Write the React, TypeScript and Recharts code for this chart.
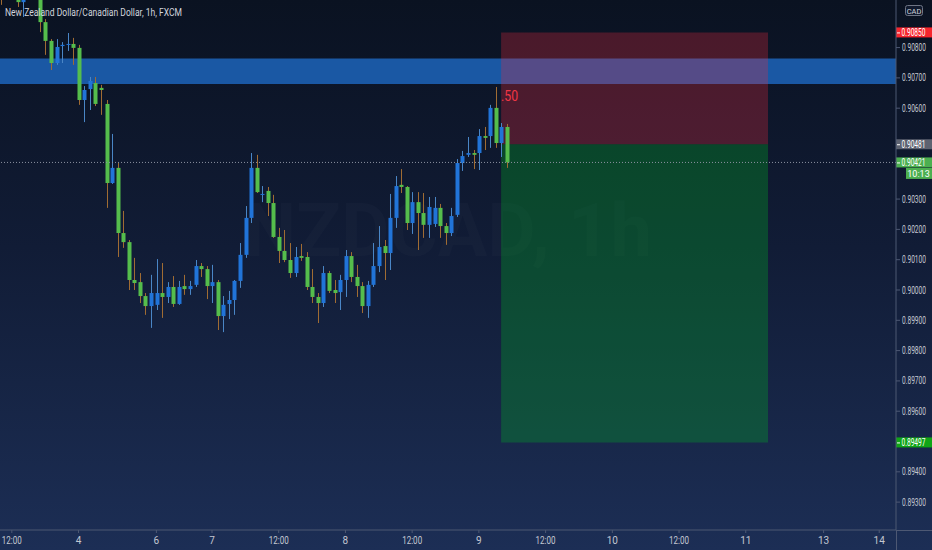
import React from "react";
import {
  Bar, ComposedChart, ReferenceArea, ReferenceDot, ReferenceLine, XAxis, YAxis,
} from "recharts";

// hourly NZD/CAD candles, FXCM (oldest first)
const opens = [
  0.91007, 0.9097, 0.91003, 0.90967, 0.9095, 0.90983, 0.91023, 0.9099, 0.90884, 0.90822,
  0.90749, 0.90805, 0.90809, 0.90812, 0.90799, 0.90627, 0.90663, 0.90683, 0.90667, 0.90614,
  0.90353, 0.90403, 0.90188, 0.90158, 0.90033, 0.90026, 0.8998, 0.89947, 0.89951, 0.8999,
  0.89977, 0.9001, 0.89954, 0.90013, 0.90003, 0.90017, 0.90079, 0.90069, 0.90013, 0.90026,
  0.89914, 0.89954, 0.89967, 0.9003, 0.90116, 0.90238, 0.90403, 0.90314, 0.90327, 0.90287,
  0.90175, 0.90129, 0.90099, 0.90056, 0.90112, 0.90109, 0.9001, 0.89977, 0.89957, 0.90056,
  0.9, 0.89993, 0.90033, 0.90112, 0.90043, 0.90013, 0.89947, 0.90017, 0.90079, 0.90145,
  0.90122, 0.90238, 0.90347, 0.9034, 0.90221, 0.9029, 0.90254, 0.90215, 0.90218, 0.90271,
  0.90211, 0.90188, 0.90248, 0.90419, 0.90446, 0.90452, 0.90452, 0.90508, 0.90508, 0.90601,
  0.90485, 0.90538,
];
const highs = [
  0.91023, 0.91016, 0.9101, 0.90977, 0.90997, 0.9104, 0.91036, 0.91003, 0.90894, 0.90828,
  0.90828, 0.90818, 0.90848, 0.90832, 0.90809, 0.90673, 0.90703, 0.90703, 0.90677, 0.90627,
  0.90515, 0.90419, 0.90261, 0.90165, 0.90106, 0.90056, 0.8999, 0.9005, 0.90102, 0.90089,
  0.90026, 0.90046, 0.9003, 0.9005, 0.9003, 0.90099, 0.90089, 0.90079, 0.90083, 0.90033,
  0.8998, 0.89997, 0.90033, 0.90155, 0.90277, 0.90452, 0.90446, 0.90343, 0.9034, 0.90314,
  0.90205, 0.90198, 0.90155, 0.90142, 0.90152, 0.90125, 0.90069, 0.8999, 0.90079, 0.90063,
  0.90033, 0.9005, 0.90132, 0.90125, 0.90083, 0.90026, 0.9003, 0.90155, 0.90211, 0.90165,
  0.90317, 0.90376, 0.90399, 0.90343, 0.90323, 0.90323, 0.9032, 0.90307, 0.90307, 0.90284,
  0.90221, 0.90271, 0.90432, 0.90459, 0.90505, 0.90462, 0.90531, 0.90538, 0.90611, 0.9067,
  0.90551, 0.90548,
];
const lows = [
  0.90941, 0.90964, 0.9096, 0.90934, 0.90901, 0.90967, 0.9097, 0.90851, 0.90776, 0.90726,
  0.90743, 0.90749, 0.90789, 0.90743, 0.90611, 0.90554, 0.90594, 0.90607, 0.90578, 0.90271,
  0.9035, 0.90109, 0.90139, 0.9, 0.9, 0.89957, 0.89918, 0.89875, 0.89934, 0.89908,
  0.89957, 0.89944, 0.89951, 0.89984, 0.89984, 0.9001, 0.90043, 0.8997, 0.89957, 0.89868,
  0.89861, 0.89904, 0.89918, 0.90007, 0.90106, 0.90221, 0.9032, 0.9029, 0.90244, 0.90172,
  0.90089, 0.90092, 0.9004, 0.90043, 0.90096, 0.9, 0.89957, 0.89891, 0.89944, 0.8999,
  0.89957, 0.89934, 0.89977, 0.90026, 0.89977, 0.89924, 0.89908, 0.9001, 0.90059, 0.90033,
  0.90066, 0.90205, 0.9032, 0.90198, 0.90185, 0.90132, 0.90172, 0.90172, 0.90208, 0.90172,
  0.90149, 0.90178, 0.90241, 0.90393, 0.90439, 0.90399, 0.90396, 0.90462, 0.90469, 0.90469,
  0.90439, 0.90403,
];
const closes = [
  0.90964, 0.91003, 0.90967, 0.9095, 0.90983, 0.91023, 0.9099, 0.90884, 0.90822, 0.90749,
  0.90802, 0.90809, 0.90812, 0.90799, 0.90627, 0.9066, 0.9069, 0.90614, 0.9066, 0.90353,
  0.90403, 0.90188, 0.90158, 0.90033, 0.90023, 0.8998, 0.89947, 0.8999, 0.8999, 0.89977,
  0.9001, 0.89954, 0.9001, 0.90003, 0.90013, 0.90079, 0.90069, 0.90013, 0.90026, 0.89914,
  0.89951, 0.89967, 0.9003, 0.90116, 0.90238, 0.90403, 0.90323, 0.90317, 0.90287, 0.90175,
  0.90129, 0.90099, 0.90056, 0.90109, 0.90106, 0.9001, 0.89977, 0.89957, 0.90056, 0.89997,
  0.8999, 0.90033, 0.90112, 0.90043, 0.90013, 0.89947, 0.90017, 0.90079, 0.90142, 0.90122,
  0.90238, 0.90343, 0.9034, 0.90221, 0.9029, 0.90254, 0.90215, 0.90274, 0.90271, 0.90211,
  0.90188, 0.90244, 0.90419, 0.90442, 0.90452, 0.90446, 0.90508, 0.90502, 0.90601, 0.90485,
  0.90538, 0.90421,
];

// time axis: bar slot of each label
const dayTickSlots = [2, 14, 28, 38, 50, 62, 74, 86, 98, 110, 122, 134, 148, 158];
const dayTickLabels = ["12:00", "4", "6", "7", "12:00", "8", "12:00", "9", "12:00", "10", "12:00", "11", "13", "14"];
// grid prices left visible next to the price tags
const priceTicks = [
  0.893, 0.894, 0.896, 0.897, 0.898, 0.899, 0.9, 0.901,
  0.902, 0.903, 0.906, 0.907, 0.908,
];

const zoneLow = 0.9068;
const zoneHigh = 0.90764;
const stopPrice = 0.9085;
const entryPrice = 0.90481;
const targetPrice = 0.89497;
const lastPrice = 0.90421;
const positionFrom = 90;
const positionTo = 138;
const ratioPrice = 0.90637;
const ratioText = ".50";

const candles = opens.map((open, i) => ({
  slot: i,
  open,
  close: closes[i],
  high: highs[i],
  low: lows[i],
  range: [lows[i], highs[i]],
}));

const W = 932;
const H = 550;
const axisColor = "#4d5873";
const textColor = "#c3c7d1";

function Candle(props: any) {
  const { x, y, width, height, payload } = props;
  if (x == null || y == null) return null;
  const top = Math.min(y, y + height);
  const bottom = Math.max(y, y + height);
  const { open, close, high, low } = payload;
  const toY = (p: number) => top + ((high - p) / (high - low)) * (bottom - top);
  const up = close >= open;
  const cx = Math.round(x + width / 2) + 0.5;
  const bTop = toY(Math.max(open, close));
  const bBot = toY(Math.min(open, close));
  return (
    <g>
      <line x1={cx} x2={cx} y1={top} y2={bottom} stroke={up ? "#4a86c6" : "#a06c33"} strokeWidth={1} />
      <rect
        x={cx - 2}
        y={bTop}
        width={4}
        height={Math.max(1, bBot - bTop)}
        fill={up ? "#2174d8" : "#55bd4c"}
      />
    </g>
  );
}

function PriceTick(props: any) {
  const { x, y, payload } = props;
  return (
    <text x={x} y={y} dy={3.5} fill={textColor} fontSize={10} textLength={24} lengthAdjust="spacingAndGlyphs">
      {payload.value.toFixed(5)}
    </text>
  );
}

function TimeTick(props: any) {
  const { x, y, payload } = props;
  const label = dayTickLabels[dayTickSlots.indexOf(payload.value)] ?? "";
  return (
    <text
      x={x}
      y={y}
      dy={9}
      textAnchor="middle"
      fill={textColor}
      fontSize={10}
      {...(label.length > 2 ? { textLength: 20, lengthAdjust: "spacingAndGlyphs" } : {})}
    >
      {label}
    </text>
  );
}

const priceTag = (text: string, fill: string, countdown?: string) => (props: any) => {
  const vb = props.viewBox;
  if (!vb) return null;
  const x = vb.x + vb.width;
  const y = vb.y;
  return (
    <g>
      <rect x={x} y={y - 5} width={W - x} height={10} fill={fill} />
      <line x1={x + 1} x2={x + 4} y1={y + 0.5} y2={y + 0.5} stroke="#ffffff" />
      <text x={x + 5.5} y={y} dy={3.5} fill="#ffffff" fontSize={10} textLength={24} lengthAdjust="spacingAndGlyphs">
        {text}
      </text>
      {countdown && (
        <g>
          <rect x={x + 10} y={y + 5.5} width={W - x - 10} height={11} fill={fill} />
          <text x={x + 22.5} y={y + 11} dy={3.2} textAnchor="middle" fill="#ffffff" fontSize={9}>
            {countdown}
          </text>
        </g>
      )}
    </g>
  );
};

const ratioLabel = (props: any) => {
  const vb = props.viewBox;
  if (!vb) return null;
  return (
    <text x={vb.x + 1} y={vb.y + 5.5} fill="#f23645" fontSize={15} textLength={17} lengthAdjust="spacingAndGlyphs">
      {ratioText}
    </text>
  );
};

export default function App() {
  return (
    <div
      style={{
        position: "relative",
        width: W,
        height: H,
        overflow: "hidden",
        fontFamily: "Roboto, 'Liberation Sans', sans-serif",
        background: "linear-gradient(180deg, #0a1221 0%, #111c36 45%, #1c2e55 100%)",
      }}
    >
      <style>{"body{margin:0}"}</style>
      <svg width={W} height={H} style={{ position: "absolute", left: 0, top: 0 }}>
        <g fill="#ffffff" fillOpacity={0.018} textAnchor="middle">
          <text x={448} y={256} fontSize={74} fontWeight={700}>NZDCAD, 1h</text>
          <text x={448} y={316} fontSize={28} fontWeight={700}>New Zealand Dollar/Canadian Dollar</text>
        </g>
      </svg>
      <div style={{ position: "absolute", left: 0, top: 0 }}>
        <ComposedChart width={W} height={H} data={candles} margin={{ top: 0, right: 0, bottom: 0, left: 0 }}>
          <XAxis
            dataKey="slot"
            type="number"
            domain={[-0.126, 161.02]}
            allowDataOverflow
            ticks={dayTickSlots}
            interval={0}
            height={20}
            tickSize={3}
            tick={<TimeTick />}
            axisLine={{ stroke: axisColor }}
            tickLine={{ stroke: axisColor }}
          />
          <YAxis
            orientation="right"
            type="number"
            domain={[0.89208, 0.90957]}
            allowDataOverflow
            ticks={priceTicks}
            interval={0}
            width={36}
            tickSize={4}
            tick={<PriceTick />}
            axisLine={{ stroke: axisColor }}
            tickLine={{ stroke: axisColor }}
          />
          <ReferenceArea y1={zoneLow} y2={zoneHigh} fill="#1b5cab" fillOpacity={0.95} stroke="none" />
          <ReferenceArea
            x1={positionFrom}
            x2={positionTo}
            y1={entryPrice}
            y2={stopPrice}
            fill="#f02a3e"
            fillOpacity={0.28}
            stroke="none"
          />
          <ReferenceArea
            x1={positionFrom}
            x2={positionTo}
            y1={targetPrice}
            y2={entryPrice}
            fill="#00b224"
            fillOpacity={0.3}
            stroke="none"
          />
          <Bar dataKey="range" shape={<Candle />} barSize={4} isAnimationActive={false} />
          <ReferenceLine
            y={lastPrice}
            stroke="#8b91a0"
            strokeDasharray="1 2"
            label={priceTag(lastPrice.toFixed(5), "#4caf50", "10:13")}
          />
          <ReferenceLine y={entryPrice} stroke="none" label={priceTag(entryPrice.toFixed(5), "#5d6270")} />
          <ReferenceLine y={stopPrice} stroke="none" label={priceTag(stopPrice.toFixed(5), "#f7252d")} />
          <ReferenceLine y={targetPrice} stroke="none" label={priceTag(targetPrice.toFixed(5), "#10a516")} />
          <ReferenceDot x={positionFrom} y={ratioPrice} r={1} fill="none" stroke="none" label={ratioLabel} />
        </ComposedChart>
      </div>
      <svg width={W} height={H} style={{ position: "absolute", left: 0, top: 0, pointerEvents: "none" }}>
        <line x1={896} x2={W} y1={530.5} y2={530.5} stroke={axisColor} />
        <line x1={896.5} x2={896.5} y1={530} y2={H} stroke={axisColor} />
        <text x={5} y={15.5} fill="#d1d4dc" fontSize={10} textLength={177} lengthAdjust="spacingAndGlyphs">
          New Zealand Dollar/Canadian Dollar, 1h, FXCM
        </text>
        <rect x={905.5} y={5.5} width={17} height={10} rx={2} fill="#111a2e" stroke="#6f7585" />
        <text x={914} y={13.5} textAnchor="middle" fill="#d1d4dc" fontSize={7.5}>CAD</text>
      </svg>
    </div>
  );
}
